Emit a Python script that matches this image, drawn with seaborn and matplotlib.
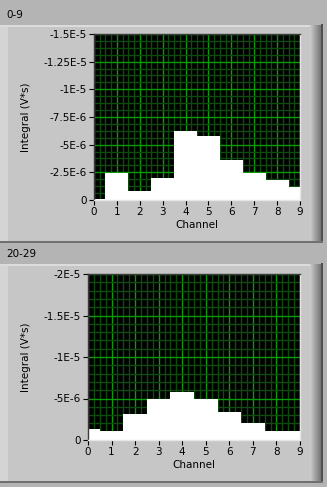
import numpy as np
import pandas as pd
import matplotlib
matplotlib.use("Agg")
import matplotlib.pyplot as plt
import seaborn as sns
from matplotlib.patches import Rectangle
from matplotlib.ticker import MultipleLocator

sns.set_theme(style="white")
plt.rcParams['font.family'] = ['DejaVu Sans']

# ---- data ----
channels = list(range(10))
titles = ["0-9", "20-29"]
values_top = [-0.06e-6, -2.47e-6, -0.84e-6, -2.02e-6, -6.27e-6, -5.81e-6, -3.62e-6, -2.44e-6, -1.84e-6, -1.20e-6]
values_bot = [-1.28e-6, -1.12e-6, -3.09e-6, -4.98e-6, -5.74e-6, -4.90e-6, -3.33e-6, -2.00e-6, -1.12e-6, -1.04e-6]
yticks_top = [0, -2.5e-6, -5e-6, -7.5e-6, -1e-5, -1.25e-5, -1.5e-5]
ylabels_top = ["0", "-2.5E-6", "-5E-6", "-7.5E-6", "-1E-5", "-1.25E-5", "-1.5E-5"]
yticks_bot = [0, -5e-6, -1e-5, -1.5e-5, -2e-5]
ylabels_bot = ["0", "-5E-6", "-1E-5", "-1.5E-5", "-2E-5"]
xlabel = "Channel"
ylabel = "Integral (V*s)"

W, H = 327, 487
fig = plt.figure(figsize=(W / 100, H / 100), dpi=100)
fig.patch.set_facecolor("#B4B4B4")

def rect(x, y, w, h, color, z=-10):
    fig.patches.append(Rectangle((x / W, 1 - (y + h) / H), w / W, h / H,
                                 transform=fig.transFigure, facecolor=color,
                                 edgecolor="none", zorder=z))

def panel(y0, y1):
    rect(0, y0, 323, y1 - y0, "#C6C6C6")
    rect(0, y0, 8, y1 - y0, "#D4D4D4")
    rect(0, y0, 323, 1.5, "#DCDCDC")
    n = 11
    for i in range(n):
        g = int(200 - i * 8)
        rect(310 + i, y0, 1.05, y1 - y0, "#%02x%02x%02x" % (g, g, g))
    rect(321, y0 - 1, 2, y1 - y0 + 1, "#505050")
    rect(0, y1, 323, 1.5, "#707070")

panel(25, 241)
panel(264, 481)

fig.text(6 / W, 1 - 15 / H, titles[0], fontsize=7.5, va="center", ha="left", color="black")
fig.text(6 / W, 1 - 254 / H, titles[1], fontsize=7.5, va="center", ha="left", color="black")

def make_ax(x0, x1, y0, y1, vals, yticks, ylabels, ymin, minor_y):
    ax = fig.add_axes([x0 / W, 1 - y1 / H, (x1 - x0) / W, (y1 - y0) / H], zorder=5)
    ax.set_facecolor("black")
    df = pd.DataFrame({"ch": channels, "v": vals})
    sns.barplot(data=df, x="ch", y="v", ax=ax, color="white", width=1.0,
                saturation=1, linewidth=0, edgecolor="white")
    ax.set_axisbelow(True)
    ax.set_xlim(0, 9)
    ax.set_ylim(0, ymin)
    ax.set_xticks(channels)
    ax.set_xticklabels([str(c) for c in channels])
    ax.xaxis.set_minor_locator(MultipleLocator(0.25))
    ax.set_yticks(yticks)
    ax.set_yticklabels(ylabels)
    ax.yaxis.set_minor_locator(MultipleLocator(minor_y))
    ax.grid(which="major", color="#0A9A0A", linewidth=1.0)
    ax.grid(which="minor", color="#0F4A0F", linewidth=1.0)
    ax.tick_params(which="major", length=3.5, width=0.8, color="black",
                   labelsize=7.5, labelcolor="black", pad=1.5,
                   left=True, bottom=True)
    ax.tick_params(which="minor", length=0)
    for s in ["top", "left"]:
        ax.spines[s].set_color("#3A3A3A")
        ax.spines[s].set_linewidth(1)
    for s in ["right", "bottom"]:
        ax.spines[s].set_color("#E6E6E6")
        ax.spines[s].set_linewidth(1)
    ax.set_xlabel(xlabel, fontsize=7.5, color="black", labelpad=2)
    ax.set_ylabel(ylabel, fontsize=7.5, color="black", labelpad=4)
    ax.yaxis.set_label_coords(-(x0 - 31) / (x1 - x0), 0.5)
    return ax

make_ax(94, 300, 34, 200, values_top, yticks_top, ylabels_top, -1.5e-5, 6.25e-7)
make_ax(88, 300, 274, 440, values_bot, yticks_bot, ylabels_bot, -2e-5, 1e-6)

fig.savefig("out.png", dpi=100, facecolor=fig.get_facecolor())
